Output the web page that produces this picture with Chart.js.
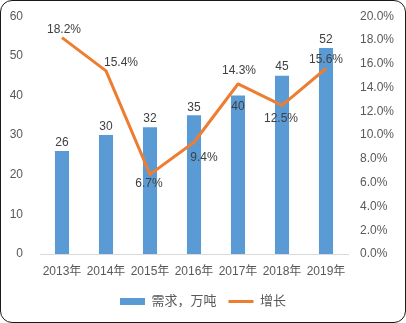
<!DOCTYPE html>
<html>
<head>
<meta charset="utf-8">
<script src="https://cdn.jsdelivr.net/npm/chart.js@4/dist/chart.umd.min.js"></script>
<style>
  html, body { margin: 0; padding: 0; background: #fff; }
  #wrap { position: relative; width: 406px; height: 323px; }
  #wrap canvas { position: absolute; left: 0; top: 0; }
  #frame {
    position: absolute; left: 0; top: 0; width: 406px; height: 323px;
    box-sizing: border-box; border: 1px solid #1a1a1a; border-radius: 12px;
    pointer-events: none;
  }
</style>
</head>
<body>
<div id="wrap">
  <canvas id="chart" width="406" height="323"></canvas>
  <div id="frame"></div>
</div>
<script>
// données
const years = ['2013年', '2014年', '2015年', '2016年', '2017年', '2018年', '2019年'];
const demand = [26, 30, 32, 35, 40, 45, 52];           // 需求，万吨
const growth = [18.2, 15.4, 6.7, 9.4, 14.3, 12.5, 15.6]; // 增长 (%)

// décalage des étiquettes (px) par rapport au sommet de la barre / au point
const barLabelShift = [-8, -8, -8, -8, 11, -9, -8];
const growthLabelShift = [[2, -8], [15, -8], [-1, 9], [10, 15], [1, -13], [-1, 13], [0, -9]];

const FONT = "'Liberation Sans', 'Noto Sans CJK SC', sans-serif";
const BLUE = '#5B9BD5';
const ORANGE = '#ED7D31';

// étiquettes de valeur sur les barres et la courbe
const valueLabels = {
    id: 'valueLabels',
    afterDatasetsDraw(chart) {
        const ctx = chart.ctx;
        ctx.save();
        ctx.font = '12px ' + FONT;
        ctx.fillStyle = '#404040';
        ctx.textAlign = 'center';
        ctx.textBaseline = 'middle';
        chart.getDatasetMeta(0).data.forEach((bar, i) => {
            ctx.fillText(String(demand[i]), bar.x, bar.y + barLabelShift[i]);
        });
        chart.getDatasetMeta(1).data.forEach((pt, i) => {
            const [dx, dy] = growthLabelShift[i];
            ctx.fillText(growth[i].toFixed(1) + '%', pt.x + dx, pt.y + dy);
        });
        ctx.restore();
    }
};

new Chart(document.getElementById('chart'), {
    type: 'bar',
    data: {
        labels: years,
        datasets: [{
            label: '需求，万吨',
            data: demand,
            backgroundColor: BLUE,
            borderWidth: 0,
            categoryPercentage: 0.8,
            barPercentage: 0.4,
            yAxisID: 'y',
            order: 1
        }, {
            type: 'line',
            label: '增长',
            data: growth,
            borderColor: ORANGE,
            backgroundColor: ORANGE,
            borderWidth: 3,
            borderJoinStyle: 'round',
            pointRadius: 0,
            tension: 0,
            yAxisID: 'y1',
            order: 0
        }]
    },
    options: {
        responsive: false,
        animation: false,
        layout: { padding: { top: 8, bottom: 5, left: 0, right: 0 } },
        plugins: {
            tooltip: { enabled: false },
            legend: {
                position: 'bottom',
                labels: {
                    font: { family: FONT, size: 13 },
                    color: '#595959',
                    usePointStyle: true,
                    pointStyleWidth: 25,
                    boxHeight: 7,
                    padding: 12,
                    sort: (a, b) => a.datasetIndex - b.datasetIndex,
                    generateLabels: chart => Chart.defaults.plugins.legend.labels.generateLabels(chart)
                        .map(item => ({ ...item, pointStyle: item.datasetIndex === 0 ? 'rect' : 'line' }))
                }
            }
        },
        scales: {
            x: {
                grid: { display: false },
                border: { color: '#d9d9d9', width: 1 },
                ticks: {
                    font: { family: FONT, size: 12 },
                    color: '#595959',
                    padding: 2,
                    maxRotation: 0,
                    autoSkip: false
                },
                afterFit: s => { s.height = 29; }
            },
            y: {
                position: 'left',
                min: 0, max: 60,
                grid: { display: false },
                border: { display: false },
                ticks: {
                    stepSize: 10,
                    font: { family: FONT, size: 12 },
                    color: '#595959',
                    padding: 9
                },
                afterFit: s => { s.width = 40; }
            },
            y1: {
                position: 'right',
                min: 0, max: 20,
                grid: { display: false },
                border: { display: false },
                ticks: {
                    stepSize: 2,
                    font: { family: FONT, size: 12 },
                    color: '#595959',
                    padding: 4,
                    callback: v => v.toFixed(1) + '%'
                },
                afterFit: s => { s.width = 58; }
            }
        }
    },
    plugins: [valueLabels]
});
</script>
</body>
</html>
